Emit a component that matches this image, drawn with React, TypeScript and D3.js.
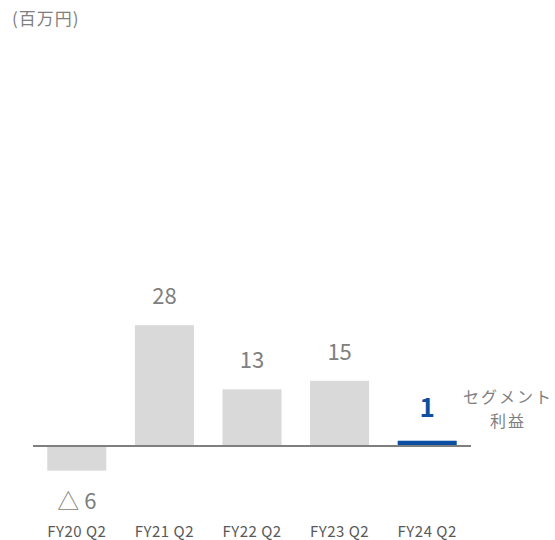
import { useEffect, useRef } from 'react';
import * as d3 from 'd3';

const categories = ['FY20 Q2', 'FY21 Q2', 'FY22 Q2', 'FY23 Q2', 'FY24 Q2'];
const values = [-6, 28, 13, 15, 1];
const valueLabels = ['△ 6', '28', '13', '15', '1'];
const seriesLabel = ['セグメント', '利益'];
const unitLabel = '(百万円)';

const FONT = '"Noto Sans CJK JP", "Noto Sans", sans-serif';

export default function App() {
    const ref = useRef<SVGSVGElement>(null);

    useEffect(() => {
        if (!ref.current) return;
        const svg = d3.select(ref.current);
        svg.selectAll('*').remove();

        const width = 555;
        const height = 540;

        const x = d3.scaleBand<string>()
            .domain(categories)
            .range([33, 471])
            .paddingInner(0.326)
            .paddingOuter(0.163);

        // ~4.28px per unit, zero at y=445
        const y = d3.scaleLinear()
            .domain([-10, 30])
            .range([445 + 10 * 4.28, 445 - 30 * 4.28]);

        svg.attr('width', width).attr('height', height);

        // unit
        svg.append('text')
            .attr('x', 12)
            .attr('y', 25)
            .attr('fill', '#7f7f7f')
            .attr('font-size', '17px')
            .attr('letter-spacing', '1px')
            .attr('font-family', FONT)
            .text(unitLabel);

        const last = categories.length - 1;

        // bars
        svg.selectAll('rect.bar')
            .data(values)
            .enter()
            .append('rect')
            .attr('class', 'bar')
            .attr('x', (_, i) => x(categories[i]) as number)
            .attr('width', x.bandwidth())
            .attr('y', d => y(Math.max(0, d)))
            .attr('height', d => Math.abs(y(d) - y(0)))
            .attr('fill', (_, i) => (i === last ? '#0b4ea2' : '#d9d9d9'));

        // baseline
        svg.append('line')
            .attr('x1', 33)
            .attr('x2', 471)
            .attr('y1', y(0) + 1)
            .attr('y2', y(0) + 1)
            .attr('stroke', '#7f7f7f')
            .attr('stroke-width', 2);

        // value labels
        svg.selectAll('text.val')
            .data(values)
            .enter()
            .append('text')
            .attr('class', 'val')
            .attr('x', (_, i) => (x(categories[i]) as number) + x.bandwidth() / 2)
            .attr('y', (d, i) => (i === last ? y(d) - 24 : d >= 0 ? y(d) - 21 : y(d) + 38))
            .attr('text-anchor', 'middle')
            .attr('fill', (_, i) => (i === last ? '#0b4ea2' : '#808080'))
            .attr('font-size', (_, i) => (i === last ? '26px' : '22px'))
            .attr('font-weight', (_, i) => (i === last ? '700' : '400'))
            .attr('font-family', FONT)
            .text((_, i) => valueLabels[i]);

        // category labels
        svg.selectAll('text.cat')
            .data(categories)
            .enter()
            .append('text')
            .attr('class', 'cat')
            .attr('x', d => (x(d) as number) + x.bandwidth() / 2)
            .attr('y', 537)
            .attr('text-anchor', 'middle')
            .attr('fill', '#595959')
            .attr('font-size', '15px')
            .attr('letter-spacing', '0.5px')
            .attr('font-family', FONT)
            .text(d => d);

        // series label
        svg.selectAll('text.series')
            .data(seriesLabel)
            .enter()
            .append('text')
            .attr('class', 'series')
            .attr('x', 508)
            .attr('y', (_, i) => 403 + i * 24)
            .attr('text-anchor', 'middle')
            .attr('fill', '#7f7f7f')
            .attr('font-size', '16px')
            .attr('letter-spacing', '2px')
            .attr('font-family', FONT)
            .text(d => d);
    }, []);

    return <svg ref={ref} style={{ position: 'absolute', left: 0, top: 0 }} />;
}
